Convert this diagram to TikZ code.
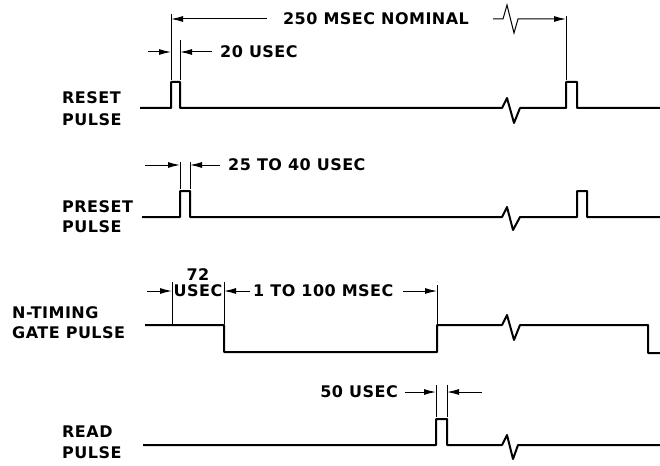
\documentclass[tikz,border=0pt]{standalone}
\usepackage{fontspec}
\setmainfont{DejaVu Sans}[LetterSpace=3]
\usetikzlibrary{arrows.meta}
\begin{document}
\begin{tikzpicture}[x=1pt,y=-1pt,
  sig/.style={line width=2pt,line join=round},
  dim/.style={line width=1pt},
  ext/.style={line width=0.8pt},
  tip/.style={-{Latex[length=12pt,width=6pt]}},
  lbl/.style={font=\fontsize{16}{18}\selectfont\bfseries, inner sep=0pt}]
\useasboundingbox (0,0) rectangle (660,465);

% ---------- labels ----------
\node[lbl,anchor=west] (l1a) at (62,98) {RESET};
\node[lbl,anchor=west] (l1b) at (62,120) {PULSE};
\node[lbl,anchor=west] (l2a) at (62,207) {PRESET};
\node[lbl,anchor=west] (l2b) at (62,227) {PULSE};
\node[lbl,anchor=west] (l3a) at (12,313) {N-TIMING};
\node[lbl,anchor=west] (l3b) at (12,333) {GATE PULSE};
\node[lbl,anchor=west] (l4a) at (62,432) {READ};
\node[lbl,anchor=west] (l4b) at (62,453) {PULSE};

% ---------- reset pulse ----------
\draw[sig] (140,108) -- (171,108) -- (171,82) -- (180,82) -- (180,108) -- (502,108)
  -- (507,98) -- (514,123) -- (520,108) -- (566,108) -- (566,82) -- (577,82) -- (577,108) -- (660,108);
\draw[ext] (171,14) -- (171,80);
\draw[ext] (180,40) -- (180,80);
\draw[ext] (566,16) -- (566,80);
\draw[dim,tip] (267,19) -- (171,19);
\node[lbl] (t250) at (376,19) {250 MSEC NOMINAL};
\draw[dim,tip] (493,19) -- (503,19) -- (507,5) -- (514,33) -- (518,19) -- (566,19);
\draw[dim,tip] (148,52) -- (171,52);
\draw[dim,tip] (212,52) -- (180,52);
\node[lbl,anchor=west] (t20) at (220,52) {20 USEC};

% ---------- preset pulse ----------
\draw[sig] (142,217) -- (180,217) -- (180,191) -- (190,191) -- (190,217) -- (502,217)
  -- (507,207) -- (513,230) -- (520,217) -- (577,217) -- (577,191) -- (587,191) -- (587,217) -- (660,217);
\draw[ext] (180,162) -- (180,189);
\draw[ext] (190,162) -- (190,189);
\draw[dim,tip] (145,165) -- (180,165);
\draw[dim,tip] (220,165) -- (190,165);
\node[lbl,anchor=west] (t25) at (228,165) {25 TO 40 USEC};

% ---------- N-timing gate pulse ----------
\draw[sig] (145,325) -- (224,325) -- (224,352) -- (437,352) -- (437,325) -- (502,325)
  -- (507,315) -- (514,340) -- (520,325) -- (648,325) -- (648,353) -- (660,353);
\draw[ext] (172,282) -- (172,324);
\draw[ext] (224,282) -- (224,324);
\draw[ext] (437,285) -- (437,324);
\draw[dim,tip] (147,291) -- (172,291);
\draw[dim,tip] (250,291) -- (224,291);
\draw[dim,tip] (403,291) -- (437,291);
\node[lbl] (t72) at (198,275) {72};
\node[lbl] (t72u) at (198,291) {USEC};
\node[lbl,anchor=west] (t1) at (253,291) {1 TO 100 MSEC};

% ---------- read pulse ----------
\draw[sig] (143,445) -- (436,445) -- (436,419) -- (447,419) -- (447,445) -- (502,445)
  -- (507,435) -- (513,459) -- (518,445) -- (660,445);
\draw[ext] (436,385) -- (436,417);
\draw[ext] (447,385) -- (447,417);
\draw[dim,tip] (405,392) -- (436,392);
\draw[dim,tip] (482,392) -- (447,392);
\node[lbl,anchor=east] (t50) at (398,392) {50 USEC};
\end{tikzpicture}
\end{document}
